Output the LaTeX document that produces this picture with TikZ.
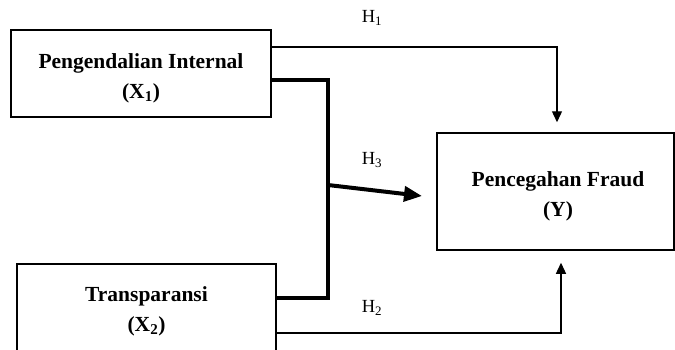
\documentclass[tikz,border=0pt]{standalone}
\usepackage{fontspec}
\setmainfont{Liberation Serif}
\usetikzlibrary{arrows.meta}
\begin{document}
\begin{tikzpicture}[x=1pt,y=-1pt,
  box/.style={draw,line width=1.5pt,rectangle,inner sep=0pt},
  boxtext/.style={align=center,inner sep=0pt,
    font=\bfseries\fontsize{21.5}{30}\selectfont},
  thinarrow/.style={line width=1.3pt,-{Triangle[length=11pt,width=10pt]}},
  thickline/.style={line width=4pt},
  hlabel/.style={font=\fontsize{18.5}{20}\selectfont}]
\useasboundingbox (0,0) rectangle (675,349);
\clip (0,0) rectangle (675,349);
\node[box,minimum width=260pt,minimum height=87pt] (x1) at (141,73.5) {};
\node[boxtext] (x1t) at (141,78) {Pengendalian Internal\\(X\textsubscript{1})};
\node[box,minimum width=259pt,minimum height=100pt] (x2) at (146.5,314) {};
\node[boxtext] (x2t) at (146.5,311) {Transparansi\\(X\textsubscript{2})};
\node[box,minimum width=237pt,minimum height=117pt] (y) at (555.5,191.5) {};
\node[boxtext] (yt) at (558,196) {Pencegahan Fraud\\(Y)};
% H1
\draw[thinarrow,shorten >=10pt] (x1.east |- 0,47) -| ([xshift=1.5pt]y.north);
% H2
\draw[thinarrow,shorten >=12pt] (x2.east |- 0,333) -| ([xshift=5.5pt]y.south);
% thick joint
\coordinate (j) at (328,185);
\draw[thickline,line join=miter] (x1.east |- 0,80) -| (j |- 0,298) -- (x2.east |- 0,298);
\draw[thickline,-{Triangle[length=18pt,width=15pt]}] (j) -- (422,196);
\node[hlabel] (h1) at (372,18) {H\textsubscript{1}};
\node[hlabel] (h3) at (372,160) {H\textsubscript{3}};
\node[hlabel] (h2) at (372,308) {H\textsubscript{2}};
\end{tikzpicture}
\end{document}
